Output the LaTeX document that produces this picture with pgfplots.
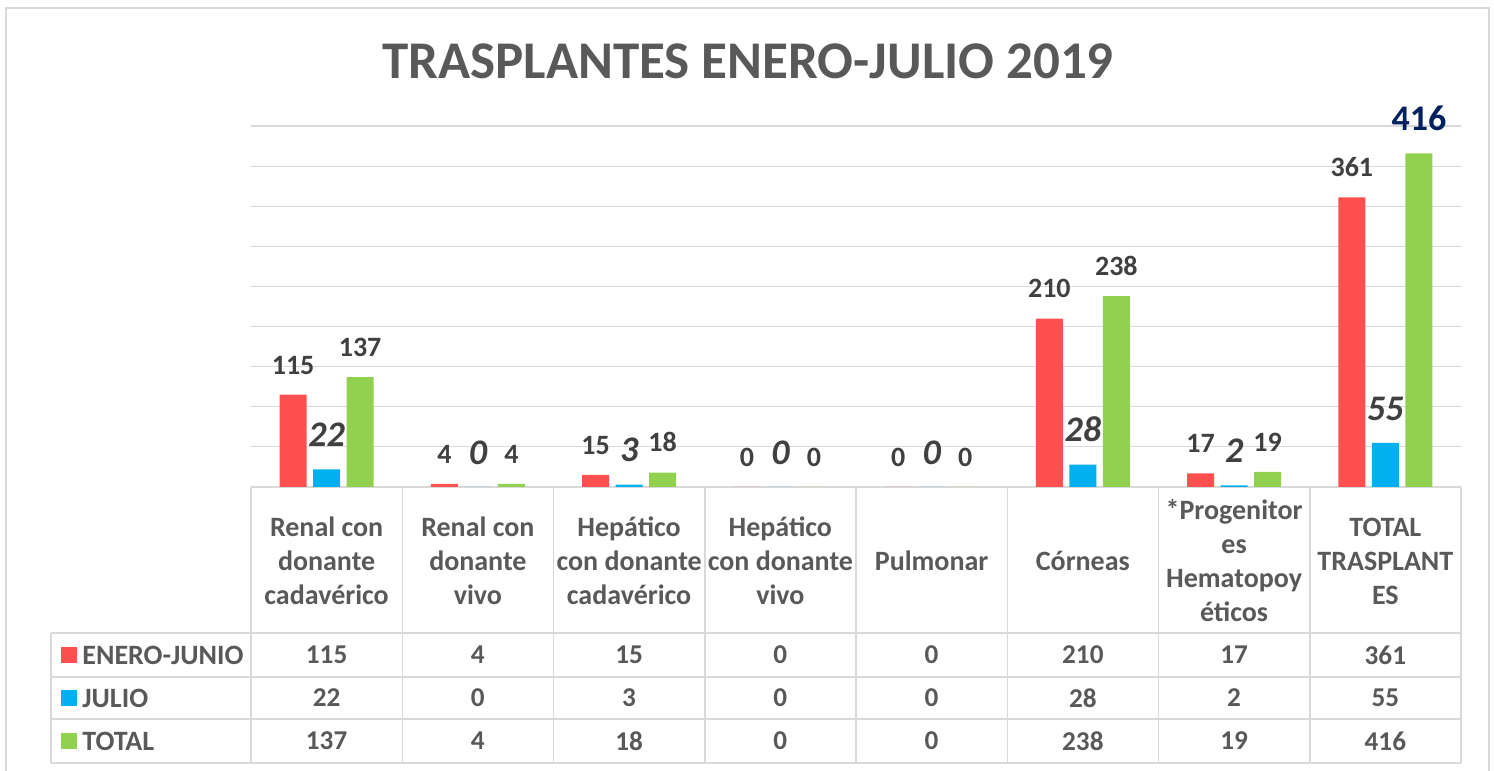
\documentclass[border=0pt]{standalone}
\usepackage{fontspec}
\setmainfont{Carlito}
\usepackage{pgfplots}
\pgfplotsset{compat=1.18}
\definecolor{cred}{HTML}{FF5050}
\definecolor{cblue}{HTML}{00B0F0}
\definecolor{cgreen}{HTML}{92D050}
\definecolor{gridgray}{HTML}{D9D9D9}
\definecolor{lbl}{HTML}{404040}
\definecolor{txt}{HTML}{595959}
\definecolor{navy}{HTML}{002060}
\newcommand{\bignavy}[1]{\textcolor{navy}{\fontsize{18}{20}\selectfont\raisebox{1pt}{#1}}}
\begin{document}
\begin{tikzpicture}
\begin{scope}[shift={(0pt,385.5pt)},x=0.5pt,y=-0.5pt]
\path[use as bounding box] (0,0) rectangle (1494,771);
% outer frame
\draw[gridgray, line width=0.9pt] (6,771) -- (6,8) -- (1489,8) -- (1489,771);
% title
\node[anchor=base, text=txt, font=\fontsize{26.5}{30}\selectfont\bfseries] at (748,79) {TRASPLANTES ENERO-JULIO 2019};
% table lines
\foreach \yy in {633,677,719,763} {\draw[gridgray, line width=0.75pt] (51,\yy) -- (1461,\yy);}
\draw[gridgray, line width=0.75pt] (251,487) -- (1461,487);
\draw[gridgray, line width=0.75pt] (51,633) -- (51,763);
\foreach \k in {0,...,8} {\draw[gridgray, line width=0.75pt] ({251+151.25*\k},487) -- ({251+151.25*\k},763);}
% category labels
\foreach \k/\lab in {0/{Renal con\\donante\\cadavérico},1/{Renal con\\donante\\vivo},2/{Hepático\\con donante\\cadavérico},3/{Hepático\\con donante\\vivo},4/{Pulmonar},5/{Córneas},6/{*Progenitor\\es\\Hematopoy\\éticos},7/{TOTAL\\TRASPLANT\\ES}}
  {\node[text=txt, align=center, font=\fontsize{14}{17}\selectfont\bfseries, inner sep=0pt] at ({251+151.25*\k+75.6},561) {\lab};}
% legend keys in table
\foreach \yy/\cc/\nm in {655/cred/ENERO-JUNIO,698/cblue/JULIO,741/cgreen/TOTAL}
  {\fill[\cc] (61,\yy-8) rectangle (77,\yy+8);
   \node[anchor=west, text=txt, font=\fontsize{14}{17}\selectfont\bfseries, inner sep=0pt] at (82,\yy) {\nm};}
% table values
\foreach \k/\a/\b/\c in {0/115/22/137,1/4/0/4,2/15/3/18,3/0/0/0,4/0/0/0,5/210/28/238,6/17/2/19,7/361/55/416}
  {\node[text=txt, font=\fontsize{13.6}{16}\selectfont\bfseries, inner sep=0pt] at ({251+151.25*\k+75.6},655) {\a};
   \node[text=txt, font=\fontsize{13.6}{16}\selectfont\bfseries, inner sep=0pt] at ({251+151.25*\k+75.6},698) {\b};
   \node[text=txt, font=\fontsize{13.6}{16}\selectfont\bfseries, inner sep=0pt] at ({251+151.25*\k+75.6},741) {\c};}
\end{scope}
\begin{axis}[
  at={(125.5pt,142pt)}, anchor=south west,
  scale only axis, width=605pt, height=180.5pt,
  xmin=-0.5, xmax=7.5, ymin=0, ymax=450,
  ytick={0,50,...,450}, yticklabels={}, xtick=\empty,
  ymajorgrids, grid style={draw=gridgray, line width=0.6pt},
  axis line style={draw=none}, major tick length=0pt,
  ybar, bar width=13.5pt,
  clip=false,
  /pgf/number format/assume math mode=true,
  nodes near coords,
  every node near coord/.append style={inner sep=0pt, yshift=10pt, text=lbl, font=\fontsize{14}{16}\selectfont\bfseries},
]
\addplot[fill=cred, draw=none, bar shift=-16.75pt] coordinates {(0,115) (1,4) (2,15) (3,0) (4,0) (5,210) (6,17) (7,361)};
\addplot[fill=cblue, draw=none, bar shift=0pt,
  every node near coord/.append style={yshift=1pt, font=\fontsize{18}{20}\selectfont\bfseries\itshape}]
  coordinates {(0,22) (1,0) (2,3) (3,0) (4,0) (5,28) (6,2) (7,55)};
\addplot[fill=cgreen, draw=none, bar shift=16.75pt,
  point meta=explicit symbolic, nodes near coords={\pgfplotspointmeta}]
  coordinates {(0,137) [137] (1,4) [4] (2,18) [18] (3,0) [0] (4,0) [0] (5,238) [238] (6,19) [19] (7,416) [\bignavy{416}]};
\end{axis}
\end{tikzpicture}
\end{document}
